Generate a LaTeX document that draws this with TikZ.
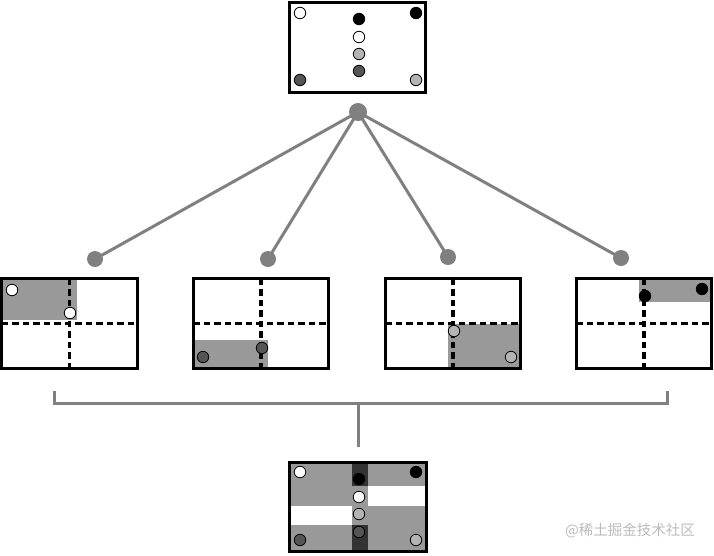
\documentclass[tikz,border=0pt]{standalone}
\usepackage{fontspec}
\newfontfamily\cjkfont{Noto Sans CJK SC}
\definecolor{greyfill}{HTML}{999999}
\definecolor{deepfill}{HTML}{333333}
\definecolor{wire}{HTML}{808080}
\definecolor{dotlight}{HTML}{B4B4B4}
\definecolor{dotdark}{HTML}{555555}
\definecolor{wmgray}{HTML}{BBBBBB}
\tikzset{
  panel/.style={draw=black, line width=3.4pt, minimum width=135.5pt, minimum height=89.5pt, inner sep=0pt, outer sep=0pt},
  splitline/.style={line width=3.2pt, dash pattern=on 6.5pt off 4pt},
  pt/.style={circle, draw=black, line width=0.8pt, minimum size=11.5pt, inner sep=0pt},
  ptw/.style={pt, fill=white},
  ptb/.style={pt, fill=black},
  ptl/.style={pt, fill=dotlight},
  ptd/.style={pt, fill=dotdark},
  hubdot/.style={circle, fill=wire, minimum size=18pt, inner sep=0pt},
  leafdot/.style={circle, fill=wire, minimum size=16pt, inner sep=0pt},
  link/.style={draw=wire, line width=3pt},
}
\begin{document}
\begin{tikzpicture}[x=1pt,y=-1pt]
\useasboundingbox (0,0) rectangle (714,555);
% ---------- top panel ----------
\node[panel] (top) at (357.5,47.5) {};
\node[ptw] (t1) at (300,13) {};
\node[ptb] (t2) at (416,13) {};
\node[ptb] (t3) at (359,19) {};
\node[ptw] (t4) at (359,37) {};
\node[ptl] (t5) at (359,54) {};
\node[ptd] (t6) at (359,71) {};
\node[ptd] (t7) at (300,80) {};
\node[ptl] (t8) at (416,80) {};
% ---------- tree ----------
\node[hubdot] (hub) at (358,112) {};
\node[leafdot] (l1) at (95,259) {};
\node[leafdot] (l2) at (268,259) {};
\node[leafdot] (l3) at (448,257) {};
\node[leafdot] (l4) at (621,258) {};
\foreach \l in {l1,l2,l3,l4} \draw[link] (hub.center) -- (\l.center);
% ---------- four panels: fills ----------
\fill[greyfill] (3,280) rectangle (77,320);
\fill[greyfill] (194,340) rectangle (268,368);
\fill[greyfill] (448,324) rectangle (520,368);
\fill[greyfill] (639,278) rectangle (711,302);
% panels
\foreach \n/\x in {p1/69.5,p2/261,p3/453,p4/644}{
  \node[panel] (\n) at (\x,323.5) {};
  \draw[splitline] (\n.north) -- (\n.south);
  \draw[splitline] (\n.west) -- (\n.east);
  \node[panel] at (\x,323.5) {};
}
\node[ptw] (a1) at (12,290) {};
\node[ptw] (a2) at (70,313) {};
\node[ptd] (b1) at (203,357) {};
\node[ptd] (b2) at (262,348) {};
\node[ptl] (c1) at (454,331) {};
\node[ptl] (c2) at (511,357) {};
\node[ptb] (d1) at (645,296) {};
\node[ptb] (d2) at (702,289) {};
% ---------- bracket ----------
\coordinate (bl) at (54,391);
\coordinate (blc) at (54,403);
\coordinate (brc) at (667,403);
\coordinate (br) at (667,391);
\coordinate (bm) at (358,403);
\coordinate (stem) at (358,447);
\draw[link] (bl) -- (blc) -- (brc) -- (br);
\draw[link] (bm) -- (stem);
% ---------- bottom panel ----------
\fill[greyfill] (291,463) rectangle (368,506);
\fill[greyfill] (352,463) rectangle (426,486);
\fill[greyfill] (291,525) rectangle (368,551);
\fill[greyfill] (352,506) rectangle (426,551);
\fill[deepfill] (352,463) rectangle (368,486);
\fill[deepfill] (352,525) rectangle (368,551);
\node[panel, minimum width=136.5pt] (bot) at (358,507) {};
\node[ptw] (u1) at (300,472) {};
\node[ptb] (u2) at (416,472) {};
\node[ptb] (u3) at (359,479) {};
\node[ptw] (u4) at (359,497) {};
\node[ptl] (u5) at (359,514) {};
\node[ptd] (u6) at (359,532) {};
\node[ptd] (u7) at (300,540) {};
\node[ptl] (u8) at (416,540) {};
% watermark
\node[text=wmgray, font=\cjkfont\fontsize{14.5}{16}\selectfont, inner sep=0pt] (wm) at (630,531) {@稀土掘金技术社区};
\end{tikzpicture}
\end{document}
